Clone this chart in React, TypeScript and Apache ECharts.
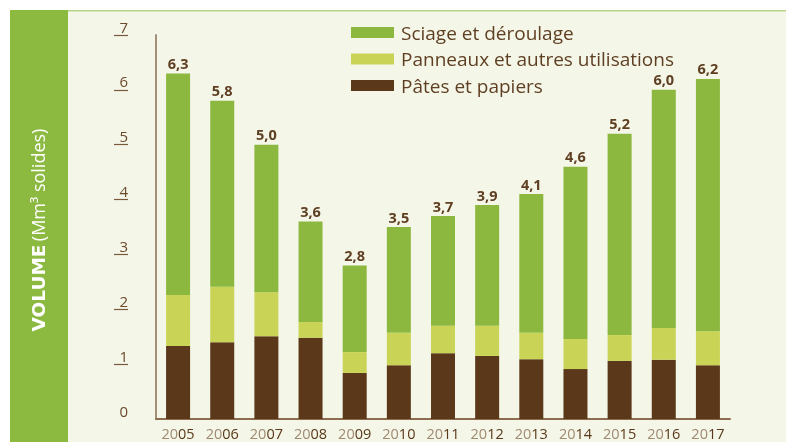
import React, { useEffect, useRef } from "react";
import * as echarts from "echarts";

const years = ["2005", "2006", "2007", "2008", "2009", "2010", "2011", "2012", "2013", "2014", "2015", "2016", "2017"];
const pates = [1.33, 1.40, 1.51, 1.48, 0.84, 0.98, 1.20, 1.15, 1.09, 0.91, 1.06, 1.08, 0.98];
const panneaux = [0.93, 1.01, 0.80, 0.29, 0.38, 0.59, 0.50, 0.55, 0.48, 0.55, 0.47, 0.58, 0.62];
const sciage = [4.04, 3.39, 2.69, 1.83, 1.58, 1.93, 2.00, 2.20, 2.53, 3.14, 3.67, 4.34, 4.60];
const totals = ["6,3", "5,8", "5,0", "3,6", "2,8", "3,5", "3,7", "3,9", "4,1", "4,6", "5,2", "6,0", "6,2"];
const yTicks = [0, 1, 2, 3, 4, 5, 6, 7];

const FONT = "'Open Sans', 'Noto Sans', sans-serif";
const C_GREEN = "#8cb83f";
const C_YELLOW = "#c9d456";
const C_BROWN = "#5a3819";
const C_TEXT = "#5f3f22";

export default function App() {
  const ref = useRef<HTMLDivElement>(null);
  useEffect(() => {
    if (!ref.current) return;
    const chart = echarts.init(ref.current, undefined, { renderer: "svg" });
    const option: any = {
      animation: false,
      textStyle: { fontFamily: FONT },
      graphic: [
        { type: "rect", left: 0, top: 0, shape: { width: 786, height: 442 }, style: { fill: "#ffffff" }, z: -10 },
        { type: "rect", shape: { x: 68, y: 10, width: 718, height: 432 }, style: { fill: "#f4f6e8" }, z: -9 },
        { type: "rect", shape: { x: 68, y: 10, width: 718, height: 1.5 }, style: { fill: "#b7d48a" }, z: -8 },
        { type: "rect", shape: { x: 10, y: 10, width: 58, height: 432 }, style: { fill: "#8cba41" }, z: -8 },
        {
          type: "text",
          x: 38,
          y: 230,
          rotation: Math.PI / 2,
          style: {
            text: "{b|VOLUME} {n|(Mm³ solides)}",
            align: "center",
            verticalAlign: "middle",
            fill: "#ffffff",
            rich: {
              b: { fontFamily: "'DejaVu Sans', sans-serif", fontSize: 18.5, fontWeight: "bold", fill: "#ffffff" },
              n: { fontFamily: FONT, fontSize: 18, fill: "#ffffff" },
            },
          },
          z: 5,
        },
      ],
      legend: {
        orient: "vertical",
        left: 346,
        top: 18,
        itemWidth: 43,
        itemHeight: 11,
        itemGap: 7.5,
        icon: "rect",
        data: ["Sciage et déroulage", "Panneaux et autres utilisations", "Pâtes et papiers"],
        textStyle: { fontFamily: FONT, fontSize: 19, color: C_TEXT, padding: [0, 0, 0, 2] },
        selectedMode: false,
      },
      grid: [
        { left: 156, right: 56, top: 35, bottom: 23 },
        { left: 114, width: 14, top: 35, bottom: 23 },
      ],
      xAxis: [
        {
          type: "category",
          gridIndex: 0,
          data: years,
          axisLine: { show: true, lineStyle: { color: "#8c6d4f", width: 2 } },
          axisTick: { show: false },
          axisLabel: {
            interval: 0,
            margin: 7,
            formatter: (v: string) => `{a|${v.slice(0, 2)}}{b|${v.slice(2)}}`,
            rich: {
              a: { fontFamily: FONT, fontSize: 14.5, color: "#a08a70" },
              b: { fontFamily: FONT, fontSize: 14.5, color: C_BROWN },
            },
          },
        },
        { type: "value", gridIndex: 1, show: false, min: 0, max: 1 },
      ],
      yAxis: [
        {
          type: "value",
          gridIndex: 0,
          min: 0,
          max: 7,
          interval: 1,
          axisLine: { show: true, lineStyle: { color: "#a3907a", width: 2 } },
          axisTick: { show: false },
          axisLabel: { show: false },
          splitLine: { show: false },
        },
        {
          type: "value",
          gridIndex: 1,
          min: 0,
          max: 7,
          interval: 1,
          position: "right",
          axisLine: { show: false },
          axisTick: { show: false },
          axisLabel: {
            show: true,
            margin: 0,
            align: "right",
            verticalAlign: "bottom",
            padding: [0, 0, 1, 0],
            fontFamily: FONT,
            fontSize: 15,
            color: "#6b4a2c",
            formatter: (v: number) => (yTicks.includes(v) ? String(v) : ""),
          },
          splitLine: {
            show: true,
            lineStyle: {
              color: ["rgba(0,0,0,0)", "#7a5a3c", "#7a5a3c", "#7a5a3c", "#7a5a3c", "#7a5a3c", "#7a5a3c", "#7a5a3c"],
              width: 1.2,
            },
          },
        },
      ],
      series: [
        {
          name: "Pâtes et papiers",
          type: "bar",
          stack: "v",
          data: pates,
          barWidth: 24,
          itemStyle: { color: C_BROWN },
        },
        {
          name: "Panneaux et autres utilisations",
          type: "bar",
          stack: "v",
          data: panneaux,
          barWidth: 24,
          itemStyle: { color: C_YELLOW },
        },
        {
          name: "Sciage et déroulage",
          type: "bar",
          stack: "v",
          data: sciage,
          barWidth: 24,
          itemStyle: { color: C_GREEN },
          label: {
            show: true,
            position: "top",
            distance: 3,
            fontFamily: FONT,
            fontSize: 14.5,
            lineHeight: 14,
            fontWeight: "bold",
            color: C_TEXT,
            formatter: (p: any) => totals[p.dataIndex],
          },
        },
      ],
    };
    chart.setOption(option);
    return () => chart.dispose();
  }, []);
  return <div ref={ref} style={{ position: "fixed", left: 0, top: 0, width: 786, height: 442 }} />;
}
